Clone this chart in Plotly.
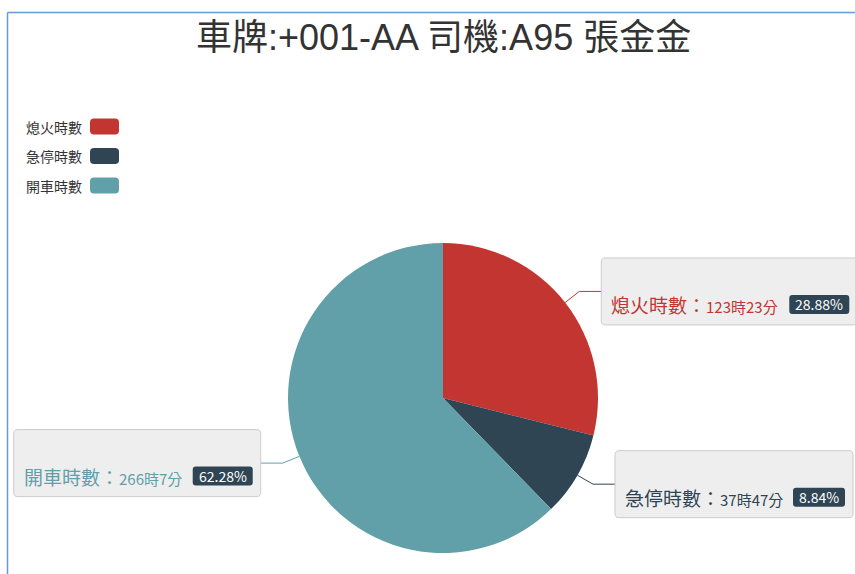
import math
import plotly.graph_objects as go

W, H = 855, 574

# ---- data -------------------------------------------------------------
categories = ["熄火時數", "急停時數", "開車時數"]
hours = [123, 37, 266]
minutes = [23, 47, 7]
colors = ["#c23531", "#2f4554", "#61a0a8"]
title_text = "車牌:+001-AA 司機:A95 張金金"

total_minutes = [h * 60 + m for h, m in zip(hours, minutes)]
grand_total = sum(total_minutes)
shares = [v / grand_total * 100 for v in total_minutes]
durations = [f"{h}時{m}分" for h, m in zip(hours, minutes)]
pct_text = [f"{s:.2f}%" for s in shares]

# ---- layout constants (pixels) ----------------------------------------
CX, CY, R = 443, 398, 155          # pie centre / radius
LINE1, LINE2 = 18, 22              # leader line segments
BOX_H = 67
BOX_W = [256, 238, 247]
CJK = "Noto Sans CJK TC, Microsoft JhengHei, sans-serif"
TITLE_FONT = "Liberation Sans, Noto Sans CJK TC, sans-serif"


def px(x):
    return x / W


def py(y):
    return 1 - y / H


def rrect(x0, y0, x1, y1, r):
    pts = [
        ("M", [(x0 + r, y0)]), ("L", [(x1 - r, y0)]), ("Q", [(x1, y0), (x1, y0 + r)]),
        ("L", [(x1, y1 - r)]), ("Q", [(x1, y1), (x1 - r, y1)]), ("L", [(x0 + r, y1)]),
        ("Q", [(x0, y1), (x0, y1 - r)]), ("L", [(x0, y0 + r)]), ("Q", [(x0, y0), (x0 + r, y0)]),
    ]
    out = []
    for cmd, coords in pts:
        out.append(cmd + " " + " ".join(f"{px(a):.5f},{py(b):.5f}" for a, b in coords))
    return " ".join(out) + " Z"


fig = go.Figure(
    go.Pie(
        labels=categories,
        values=total_minutes,
        sort=False,
        direction="clockwise",
        rotation=0,
        marker=dict(colors=colors, line=dict(width=0)),
        textinfo="none",
        hoverinfo="label+percent",
        domain=dict(x=[px(CX - R), px(CX + R)], y=[py(CY + R), py(CY - R)]),
        showlegend=False,
    )
)

shapes = []
annotations = []

# frame lines
shapes.append(dict(type="line", xref="paper", yref="paper", x0=px(7.5), x1=px(W + 2),
                   y0=py(12.5), y1=py(12.5), line=dict(color="#6a99d8", width=1.5)))
shapes.append(dict(type="line", xref="paper", yref="paper", x0=px(7.5), x1=px(7.5),
                   y0=py(12.5), y1=py(H + 2), line=dict(color="#6a99d8", width=1.5)))

# title
annotations.append(dict(text=title_text, x=px(443), y=py(37), xref="paper", yref="paper",
                        xanchor="center", yanchor="middle", showarrow=False,
                        font=dict(family=TITLE_FONT, size=36, color="#333333")))

# legend (text on the left, swatch on the right)
for i, (name, col) in enumerate(zip(categories, colors)):
    yc = 126.5 + i * 29.5
    annotations.append(dict(text=name, x=px(84), y=py(yc), xref="paper", yref="paper",
                            xanchor="right", yanchor="middle", showarrow=False,
                            font=dict(family=CJK, size=14, color="#333333")))
    shapes.append(dict(type="path", xref="paper", yref="paper",
                       path=rrect(90, yc - 8, 119, yc + 8, 4),
                       fillcolor=col, line=dict(width=0)))

# outside labels with leader lines
cum = 0.0
for i in range(len(categories)):
    mid = (cum + shares[i] / 2) / 100 * 2 * math.pi
    cum += shares[i]
    sx, sy = math.sin(mid), -math.cos(mid)
    ex, ey = CX + R * sx, CY + R * sy
    bx, by = ex + LINE1 * sx, ey + LINE1 * sy
    right = sx >= 0
    hx = bx + LINE2 if right else bx - LINE2
    shapes.append(dict(type="path", xref="paper", yref="paper",
                       path=f"M {px(ex):.5f},{py(ey):.5f} L {px(bx):.5f},{py(by):.5f} L {px(hx):.5f},{py(by):.5f}",
                       line=dict(color=colors[i], width=1)))

    x0 = hx if right else hx - BOX_W[i]
    x1 = x0 + BOX_W[i]
    y0 = by - BOX_H / 2
    y1 = by + BOX_H / 2
    shapes.append(dict(type="path", xref="paper", yref="paper", path=rrect(x0, y0, x1, y1, 4),
                       fillcolor="#eeeeee", line=dict(color="#cccccc", width=1)))

    annotations.append(dict(
        text=f"{categories[i]}：<span style='font-size:15px'>{durations[i]}</span>",
        x=px(x0 + 8), y=py(y1 - 20), xref="paper", yref="paper",
        xanchor="left", yanchor="middle", showarrow=False,
        font=dict(family=CJK, size=19, color=colors[i])))

    bw = 8 * len(pct_text[i]) + 12
    bx1 = x1 - 8
    bx0 = bx1 - bw
    bcy = y1 - 20.5
    shapes.append(dict(type="path", xref="paper", yref="paper",
                       path=rrect(bx0, bcy - 9.5, bx1, bcy + 9.5, 3),
                       fillcolor="#2f4554", line=dict(width=0)))
    annotations.append(dict(text=pct_text[i], x=px((bx0 + bx1) / 2), y=py(bcy),
                            xref="paper", yref="paper", xanchor="center", yanchor="middle",
                            showarrow=False, font=dict(family=CJK, size=14, color="#ffffff")))

fig.update_layout(
    width=W, height=H,
    margin=dict(l=0, r=0, t=0, b=0),
    paper_bgcolor="#ffffff", plot_bgcolor="#ffffff",
    shapes=shapes, annotations=annotations,
    showlegend=False,
)

fig.write_html("out.html")
